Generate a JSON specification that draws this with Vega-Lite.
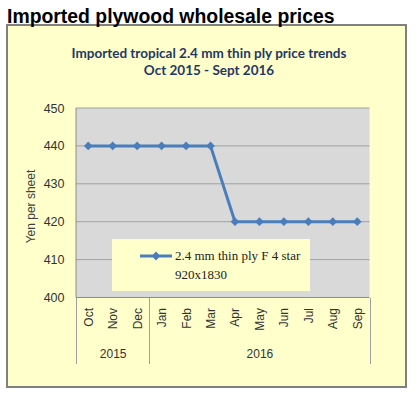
{
  "$schema": "https://vega.github.io/schema/vega-lite/v6.json",
  "width": 399,
  "height": 362,
  "autosize": "none",
  "padding": {"left": 7, "top": 25, "right": 13, "bottom": 11},
  "background": "white",
  "view": {"fill": "#FFFFCC", "stroke": "#808080", "strokeWidth": 2},
  "title": {
    "text": "Imported plywood wholesale prices",
    "anchor": "start",
    "frame": "group",
    "font": "Liberation Sans",
    "fontSize": 19.4,
    "fontWeight": "bold",
    "color": "#000000",
    "baseline": "alphabetic",
    "offset": -17
  },
  "data": {
    "values": [
      {"n": 1, "month": "Oct", "year": "2015", "price": 440, "series": "2.4 mm thin ply F 4 star 920x1830"},
      {"n": 2, "month": "Nov", "year": "2015", "price": 440, "series": "2.4 mm thin ply F 4 star 920x1830"},
      {"n": 3, "month": "Dec", "year": "2015", "price": 440, "series": "2.4 mm thin ply F 4 star 920x1830"},
      {"n": 4, "month": "Jan", "year": "2016", "price": 440, "series": "2.4 mm thin ply F 4 star 920x1830"},
      {"n": 5, "month": "Feb", "year": "2016", "price": 440, "series": "2.4 mm thin ply F 4 star 920x1830"},
      {"n": 6, "month": "Mar", "year": "2016", "price": 440, "series": "2.4 mm thin ply F 4 star 920x1830"},
      {"n": 7, "month": "Apr", "year": "2016", "price": 420, "series": "2.4 mm thin ply F 4 star 920x1830"},
      {"n": 8, "month": "May", "year": "2016", "price": 420, "series": "2.4 mm thin ply F 4 star 920x1830"},
      {"n": 9, "month": "Jun", "year": "2016", "price": 420, "series": "2.4 mm thin ply F 4 star 920x1830"},
      {"n": 10, "month": "Jul", "year": "2016", "price": 420, "series": "2.4 mm thin ply F 4 star 920x1830"},
      {"n": 11, "month": "Aug", "year": "2016", "price": 420, "series": "2.4 mm thin ply F 4 star 920x1830"},
      {"n": 12, "month": "Sep", "year": "2016", "price": 420, "series": "2.4 mm thin ply F 4 star 920x1830"}
    ]
  },
  "resolve": {"scale": {"x": "shared", "y": "shared"}, "axis": {"x": "independent", "y": "independent"}},
  "layer": [
    {
      "data": {"values": [{}]},
      "mark": {"type": "rect", "fill": "#D9D9D9"},
      "encoding": {
        "x": {"datum": 0.5, "type": "quantitative",
          "scale": {"domain": [-2.3212, 13.9923], "nice": false, "zero": false},
          "axis": {"orient": "top", "domain": false, "ticks": false, "labels": false, "grid": false,
            "title": ["Imported tropical 2.4 mm thin ply price trends", "Oct 2015 - Sept 2016"],
            "titleFont": "Lato", "titleFontWeight": "bold", "titleFontSize": 13.5, "titleColor": "#1F3864",
            "titleBaseline": "alphabetic", "titleAlign": "center", "titleAnchor": "middle",
            "titleX": 201.5, "titleY": 32, "titleLineHeight": 17.5}},
        "x2": {"datum": 12.5},
        "y": {"datum": 400, "type": "quantitative",
          "scale": {"domain": [376.385, 471.9], "nice": false, "zero": false}, "axis": null},
        "y2": {"datum": 450}
      }
    },
    {
      "data": {"values": [{"g": 410}, {"g": 420}, {"g": 430}, {"g": 440}, {"g": 450}]},
      "mark": {"type": "rule", "color": "#A0A0A0", "strokeWidth": 1},
      "encoding": {
        "x": {"datum": 0.5, "type": "quantitative",
          "scale": {"domain": [-2.3212, 13.9923], "nice": false, "zero": false},
          "axis": {"orient": "bottom", "offset": -89.5, "values": [0.5, 3.5, 12.5], "labels": false,
            "domain": false, "grid": false, "ticks": true, "tickSize": 66, "tickColor": "#A0A0A0",
            "tickWidth": 1, "title": null}},
        "x2": {"datum": 12.5},
        "y": {"field": "g", "type": "quantitative",
          "scale": {"domain": [376.385, 471.9], "nice": false, "zero": false}, "axis": null}
      }
    },
    {
      "data": {"values": [{}]},
      "mark": {"type": "rule", "color": "#8C8C8C", "strokeWidth": 1},
      "encoding": {
        "x": {"datum": 0.5, "type": "quantitative",
          "scale": {"domain": [-2.3212, 13.9923], "nice": false, "zero": false},
          "axis": {"orient": "bottom", "offset": -89.5, "values": [2, 8],
            "labelExpr": "datum.value < 5 ? '2015' : '2016'", "ticks": false, "domain": false, "grid": false,
            "labelPadding": 51, "labelFont": "Liberation Sans", "labelFontSize": 12, "labelColor": "#333333",
            "labelBaseline": "top", "title": null}},
        "y": {"datum": 400, "type": "quantitative",
          "scale": {"domain": [376.385, 471.9], "nice": false, "zero": false}, "axis": null},
        "y2": {"datum": 450}
      }
    },
    {
      "data": {"values": [{}]},
      "mark": {"type": "rule", "color": "#8C8C8C", "strokeWidth": 1},
      "encoding": {
        "x": {"datum": 0.5, "type": "quantitative",
          "scale": {"domain": [-2.3212, 13.9923], "nice": false, "zero": false}, "axis": null},
        "x2": {"datum": 12.5},
        "y": {"datum": 400, "type": "quantitative",
          "scale": {"domain": [376.385, 471.9], "nice": false, "zero": false}, "axis": null}
      }
    },
    {
      "mark": {"type": "line", "strokeWidth": 3,
        "point": {"shape": "diamond", "size": 75, "filled": true}},
      "encoding": {
        "x": {"field": "n", "type": "quantitative",
          "scale": {"domain": [-2.3212, 13.9923], "nice": false, "zero": false},
          "axis": {"orient": "bottom", "offset": -89.5, "values": [1, 2, 3, 4, 5, 6, 7, 8, 9, 10, 11, 12],
            "labelExpr": "['Oct','Nov','Dec','Jan','Feb','Mar','Apr','May','Jun','Jul','Aug','Sep'][datum.value - 1]",
            "labelAngle": -90, "labelAlign": "right", "labelBaseline": "middle", "labelPadding": 10,
            "ticks": false, "domain": false, "grid": false, "title": null,
            "labelFont": "Liberation Sans", "labelFontSize": 12, "labelColor": "#333333",
            "labelOverlap": false, "labelFlush": false, "labelBound": false}},
        "y": {"field": "price", "type": "quantitative",
          "scale": {"domain": [376.385, 471.9], "nice": false, "zero": false},
          "axis": {"orient": "left", "offset": -69, "values": [400, 410, 420, 430, 440, 450],
            "domain": false, "ticks": false, "grid": false, "labelPadding": 12,
            "labelFont": "Liberation Sans", "labelFontSize": 12.5, "labelColor": "#333333",
            "labelFlush": false, "labelOverlap": false, "labelBound": false,
            "title": "Yen per sheet", "titleFont": "Liberation Sans", "titleFontSize": 12,
            "titleFontWeight": "normal", "titleColor": "#404040", "titlePadding": 6}},
        "color": {"field": "series", "type": "nominal",
          "scale": {"range": ["#4A7EBB"]},
          "legend": {"orient": "none", "legendX": 105, "legendY": 214, "title": null,
            "fillColor": "#FFFFCC", "padding": 9, "symbolOffset": 27,
            "symbolType": "M-2,-0.19H2V0.19H-2Z M0,-0.56L0.56,0L0,0.56L-0.56,0Z",
            "symbolSize": 256, "labelOffset": 11, "labelLimit": 400,
            "labelFont": "Liberation Serif", "labelFontSize": 13, "labelColor": "#222222",
            "labelBaseline": "middle",
            "labelExpr": "['2.4 mm thin ply F 4 star\u00a0\u00a0\u00a0\u00a0\u00a0', '920x1830']",
            "encode": {
              "symbols": {"update": {"fill": {"value": "#4A7EBB"}, "stroke": {"value": "#4A7EBB"}, "strokeWidth": {"value": 0}, "opacity": {"value": 1}}},
              "labels": {"update": {"lineHeight": {"value": 19}}}
            }}}
      }
    }
  ]
}
